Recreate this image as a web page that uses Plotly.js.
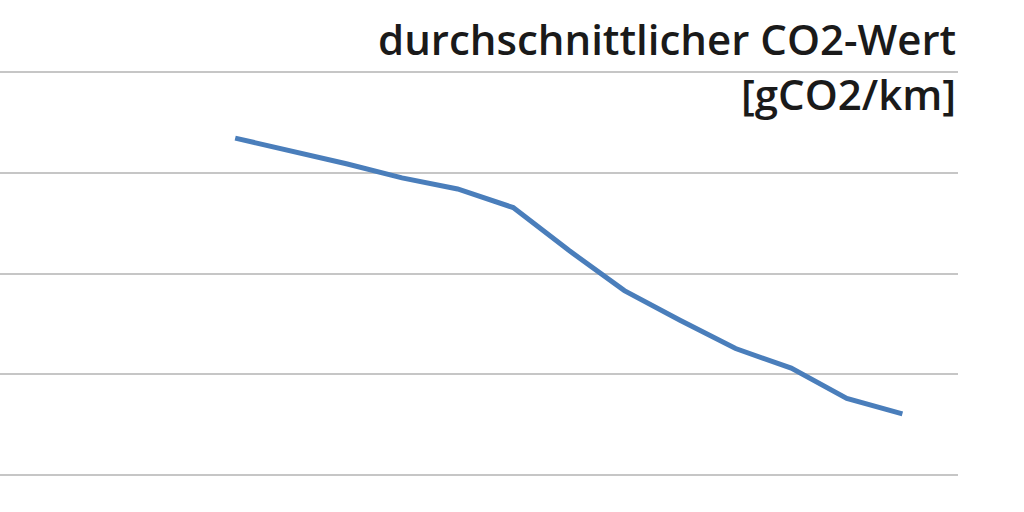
<!DOCTYPE html>
<html>
<head>
<meta charset="utf-8">
<script src="https://cdn.plot.ly/plotly-3.0.1.min.js"></script>
<style>
  html, body { margin: 0; padding: 0; background: #fff; }
  #chart { width: 1024px; height: 512px; }
</style>
</head>
<body>
<div id="chart"></div>
<script>
// years (axis labels are cropped out of the reference)
const years = [2000, 2001, 2002, 2003, 2004, 2005, 2006, 2007, 2008, 2009, 2010, 2011, 2012];
// average CO2 value in gCO2/km
const co2 = [186.9, 184.4, 181.8, 179.0, 176.8, 173.1, 164.6, 156.6, 150.7, 145.1, 141.2, 135.2, 132.1];

const titleLine1 = 'durchschnittlicher CO2-Wert';
const titleLine2 = '[gCO2/km]';

const trace = {
    x: years,
    y: co2,
    type: 'scatter',
    mode: 'lines',
    line: { color: '#4a7ebb', width: 5 },
    hoverinfo: 'skip'
};

const titleFont = { family: 'Open Sans', size: 42, weight: 600, color: '#1a1a1a' };

const layout = {
    width: 1024,
    height: 512,
    margin: { l: 0, r: 66, t: 47, b: 12 },
    paper_bgcolor: '#fff',
    plot_bgcolor: '#fff',
    showlegend: false,
    xaxis: {
        range: [1995.77, 2013.0],
        showgrid: false,
        zeroline: false,
        showline: false,
        showticklabels: false,
        ticks: ''
    },
    yaxis: {
        range: [115, 205],
        tick0: 120,
        dtick: 20,
        showgrid: true,
        gridcolor: '#c6c6c6',
        gridwidth: 2,
        zeroline: false,
        showline: false,
        showticklabels: false,
        ticks: ''
    },
    annotations: [
        {
            text: titleLine1,
            xref: 'paper', yref: 'paper',
            x: 1, y: 1.0188,
            xanchor: 'right', yanchor: 'middle',
            showarrow: false,
            font: titleFont
        },
        {
            text: titleLine2,
            xref: 'paper', yref: 'paper',
            x: 1, y: 0.8974,
            xanchor: 'right', yanchor: 'middle',
            showarrow: false,
            font: titleFont
        }
    ]
};

Plotly.newPlot('chart', [trace], layout, { staticPlot: true, displayModeBar: false });
</script>
</body>
</html>
